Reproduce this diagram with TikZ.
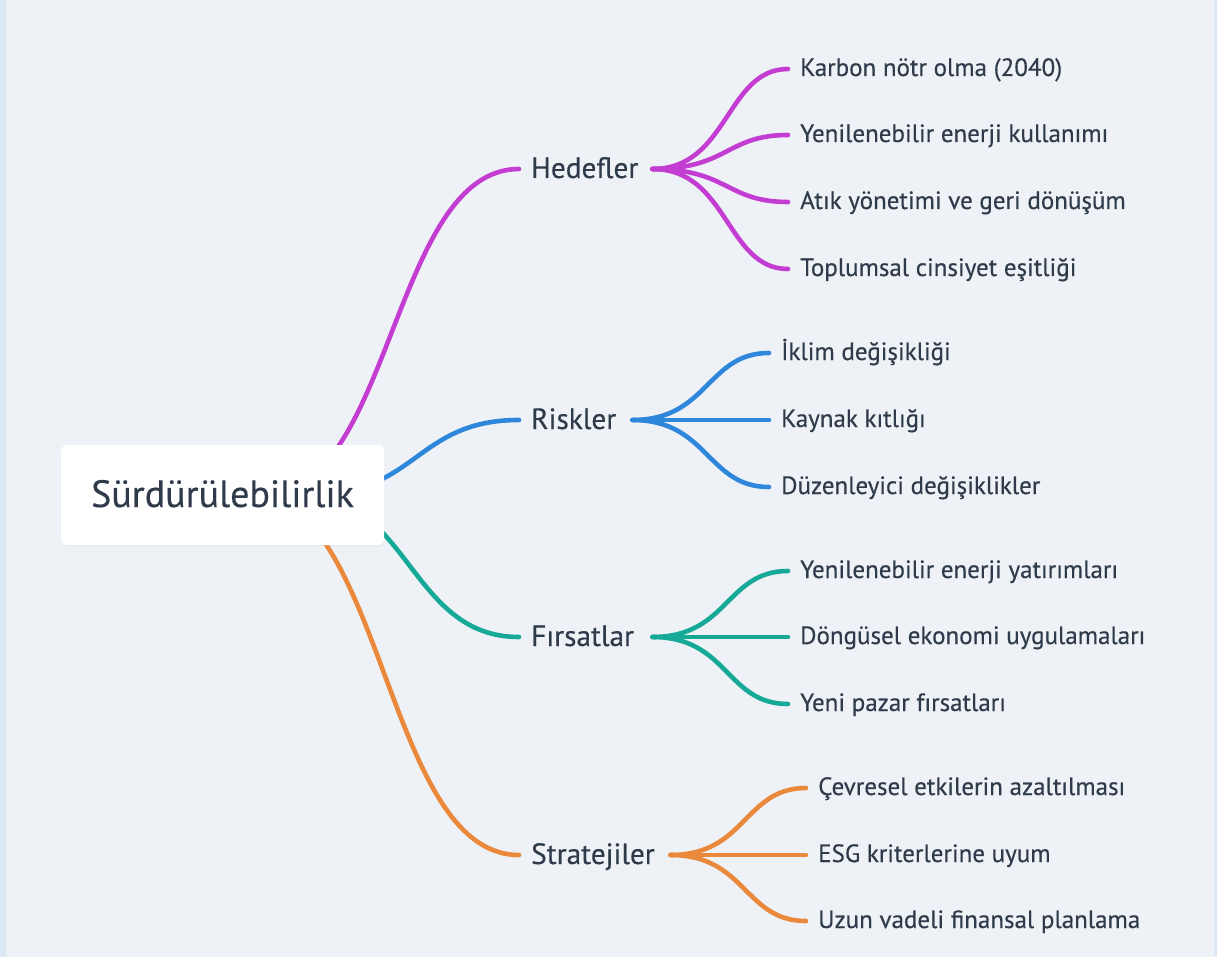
\documentclass[tikz,border=0pt]{standalone}
\usepackage{fontspec}
\setmainfont{PT Sans}[FakeBold=0.35]
\usetikzlibrary{calc,shadows}
\definecolor{pagebg}{HTML}{EEF2F6}
\definecolor{stripbg}{HTML}{DCE8F5}
\definecolor{ink}{HTML}{2F3B4A}
\definecolor{cpurple}{HTML}{C43DD3}
\definecolor{cblue}{HTML}{2F87DC}
\definecolor{cteal}{HTML}{17A998}
\definecolor{corange}{HTML}{EA883B}
\pgfdeclarelayer{bg}
\pgfdeclarelayer{edges}
\pgfsetlayers{bg,edges,main}
\tikzset{
  rootbox/.style={draw=none, fill=white, rounded corners=6pt, minimum width=323pt, minimum height=100pt,
    text=ink, font=\fontsize{38}{40}\selectfont, text height=24pt, text depth=0pt,
    drop shadow={opacity=0.06, shadow xshift=0pt, shadow yshift=-1.5pt}},
  branch/.style={anchor=west, inner xsep=12pt, inner ysep=0pt, text=ink, align=left,
    font=\fontsize{29.3}{31}\selectfont, text height=18pt, text depth=0pt},
  leaf/.style={anchor=west, inner xsep=12pt, inner ysep=0pt, text=ink,
    font=\fontsize{25}{27}\selectfont, text height=14pt, text depth=0pt},
  edge/.style={line width=4.6pt, line cap=round},
}
\begin{document}
\begin{tikzpicture}[x=1pt,y=-1pt]
\begin{pgfonlayer}{bg}
\fill[pagebg] (0,0) rectangle (1217,957);
\fill[stripbg] (0,0) rectangle (6,957);
\fill[stripbg] (1214,0) rectangle (1217,957);
\end{pgfonlayer}
\useasboundingbox (0,0) rectangle (1217,957);

\node[rootbox] (root) at (222.5,495) {Sürdürülebilirlik};

\node[branch, text width=109pt] (hed) at (519,169) {\mbox{Hedefler}};
\node[branch, text width=89pt] (ris) at (519,420) {\mbox{Riskler}};
\node[branch, text width=109pt] (fir) at (519,637) {\mbox{Fırsatlar}};
\node[branch, text width=127pt] (str) at (519,855) {\mbox{Stratejiler}};

\node[leaf] (h1) at (788,69) {Karbon nötr olma (2040)};
\node[leaf] (h2) at (788,135) {Yenilenebilir enerji kullanımı};
\node[leaf] (h3) at (788,202) {Atık yönetimi ve geri dönüşüm};
\node[leaf] (h4) at (788,269) {Toplumsal cinsiyet eşitliği};

\node[leaf] (r1) at (769,353) {İklim değişikliği};
\node[leaf] (r2) at (769,420) {Kaynak kıtlığı};
\node[leaf] (r3) at (769,487) {Düzenleyici değişiklikler};

\node[leaf] (f1) at (788,571) {Yenilenebilir enerji yatırımları};
\node[leaf] (f2) at (788,637) {Döngüsel ekonomi uygulamaları};
\node[leaf] (f3) at (788,704) {Yeni pazar fırsatları};

\node[leaf] (s1) at (806,788) {Çevresel etkilerin azaltılması};
\node[leaf] (s2) at (806,855) {ESG kriterlerine uyum};
\node[leaf] (s3) at (806,921) {Uzun vadeli finansal planlama};

\coordinate (rp) at (265,494);
\coordinate (rb) at (314,494);
\coordinate (rt) at (300,494);
\coordinate (ro) at (250,494);

\begin{pgfonlayer}{edges}
\draw[edge, cpurple] (rp) .. controls ($(rp)+(127,0)$) and ($(hed.west)+(-127,0)$) .. (hed.west);
\draw[edge, cblue] (rb) .. controls ($(rb)+(102.5,0)$) and ($(ris.west)+(-102.5,0)$) .. (ris.west);
\draw[edge, cteal] (rt) .. controls ($(rt)+(109.5,0)$) and ($(fir.west)+(-109.5,0)$) .. (fir.west);
\draw[edge, corange] (ro) .. controls ($(ro)+(134.5,0)$) and ($(str.west)+(-134.5,0)$) .. (str.west);

\foreach \l in {h1,h2,h3,h4}
  \draw[edge, cpurple] (hed.east) .. controls ($(hed.east)+(76,0)$) and ($(\l.west)+(-62,0)$) .. (\l.west);
\foreach \l in {r1,r2,r3}
  \draw[edge, cblue] (ris.east) .. controls ($(ris.east)+(76,0)$) and ($(\l.west)+(-62,0)$) .. (\l.west);
\foreach \l in {f1,f2,f3}
  \draw[edge, cteal] (fir.east) .. controls ($(fir.east)+(76,0)$) and ($(\l.west)+(-62,0)$) .. (\l.west);
\foreach \l in {s1,s2,s3}
  \draw[edge, corange] (str.east) .. controls ($(str.east)+(76,0)$) and ($(\l.west)+(-62,0)$) .. (\l.west);
\end{pgfonlayer}
\end{tikzpicture}
\end{document}
